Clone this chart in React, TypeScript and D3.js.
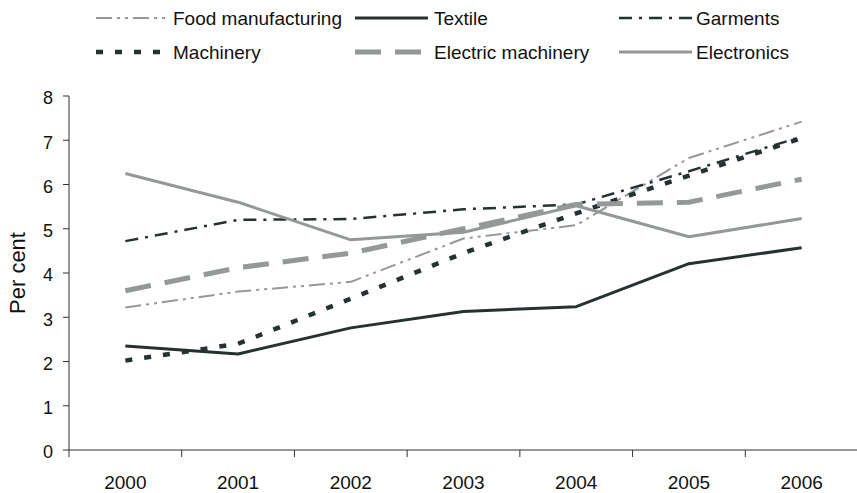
import React from "react";
import * as d3 from "d3";

const years = ["2000", "2001", "2002", "2003", "2004", "2005", "2006"];
const yTicks = [0, 1, 2, 3, 4, 5, 6, 7, 8];

const foodManufacturing = [3.22, 3.58, 3.8, 4.78, 5.08, 6.6, 7.42];
const textile = [2.35, 2.17, 2.76, 3.13, 3.24, 4.21, 4.57];
const garments = [4.72, 5.2, 5.22, 5.44, 5.55, 6.3, 7.08];
const machinery = [2.02, 2.4, 3.42, 4.45, 5.35, 6.2, 7.05];
const electricMachinery = [3.6, 4.12, 4.45, 5.0, 5.55, 5.6, 6.12];
const electronics = [6.25, 5.6, 4.75, 4.92, 5.52, 4.82, 5.23];

const seriesNames = [
  "Food manufacturing",
  "Textile",
  "Garments",
  "Machinery",
  "Electric machinery",
  "Electronics",
];
const seriesValues = [foodManufacturing, textile, garments, machinery, electricMachinery, electronics];

const DARK = "#263232";
const GREY = "#949898";

type LineStyle = { color: string; width: number; dash?: string };
const styles: LineStyle[] = [
  { color: GREY, width: 2, dash: "16 5 3 5 3 5" },
  { color: DARK, width: 3 },
  { color: DARK, width: 2.5, dash: "13 7 3 7" },
  { color: DARK, width: 4.5, dash: "7 12" },
  { color: GREY, width: 5, dash: "26 14" },
  { color: GREY, width: 3 },
];

const W = 857;
const H = 493;
const FONT = "'Liberation Sans', Arial, Helvetica, sans-serif";

export default function App() {
  const x = d3.scaleBand<string>().domain(years).range([69, 858]).padding(0);
  const y = d3.scaleLinear().domain([0, 8]).range([450, 96]);
  const cx = (yr: string) => (x(yr) as number) + x.bandwidth() / 2;

  const line = d3
    .line<number>()
    .x((_, i) => cx(years[i]))
    .y((v) => y(v));

  const legendCols = [
    { lx0: 96, lx1: 165, tx: 173 },
    { lx0: 355, lx1: 428, tx: 434 },
    { lx0: 619, lx1: 692, tx: 696 },
  ];
  const legendRows = [18, 52];

  return (
    <svg
      width={W}
      height={H}
      style={{ position: "absolute", left: 0, top: 0, background: "#fff" }}
      fontFamily={FONT}
    >
      {/* legend */}
      {seriesNames.map((name, i) => {
        const col = legendCols[i % 3];
        const ry = legendRows[Math.floor(i / 3)];
        const s = styles[i];
        return (
          <g key={name}>
            <line
              x1={col.lx0}
              x2={col.lx1}
              y1={ry}
              y2={ry}
              stroke={s.color}
              strokeWidth={s.width}
              strokeDasharray={s.dash}
            />
            <text x={col.tx} y={ry} dy="0.35em" fontSize={19} fill="#111">
              {name}
            </text>
          </g>
        );
      })}

      {/* y axis */}
      <line x1={69} x2={69} y1={y(8)} y2={y(0)} stroke="#333" strokeWidth={1} />
      {yTicks.map((t) => (
        <g key={t}>
          <line x1={63} x2={69} y1={y(t)} y2={y(t)} stroke="#333" strokeWidth={1} />
          <text x={53} y={y(t) + 2} dy="0.35em" textAnchor="end" fontSize={18} fill="#111">
            {t}
          </text>
        </g>
      ))}
      <text
        transform={`translate(17,${(y(0) + y(8)) / 2}) rotate(-90)`}
        textAnchor="middle"
        dy="0.35em"
        fontSize={22}
        fill="#111"
      >
        Per cent
      </text>

      {/* x axis */}
      <line x1={69} x2={858} y1={y(0)} y2={y(0)} stroke="#333" strokeWidth={1} />
      {years.map((yr) => (
        <g key={yr}>
          <line
            x1={x(yr) as number}
            x2={x(yr) as number}
            y1={y(0)}
            y2={y(0) + 7}
            stroke="#333"
            strokeWidth={1}
          />
          <text x={cx(yr)} y={y(0) + 32} dy="0.35em" textAnchor="middle" fontSize={19} fill="#111">
            {yr}
          </text>
        </g>
      ))}

      {/* series */}
      {seriesValues.map((vals, i) => {
        const s = styles[i];
        return (
          <path
            key={seriesNames[i]}
            d={line(vals) ?? ""}
            fill="none"
            stroke={s.color}
            strokeWidth={s.width}
            strokeDasharray={s.dash}
            strokeLinejoin="round"
          />
        );
      })}
    </svg>
  );
}
